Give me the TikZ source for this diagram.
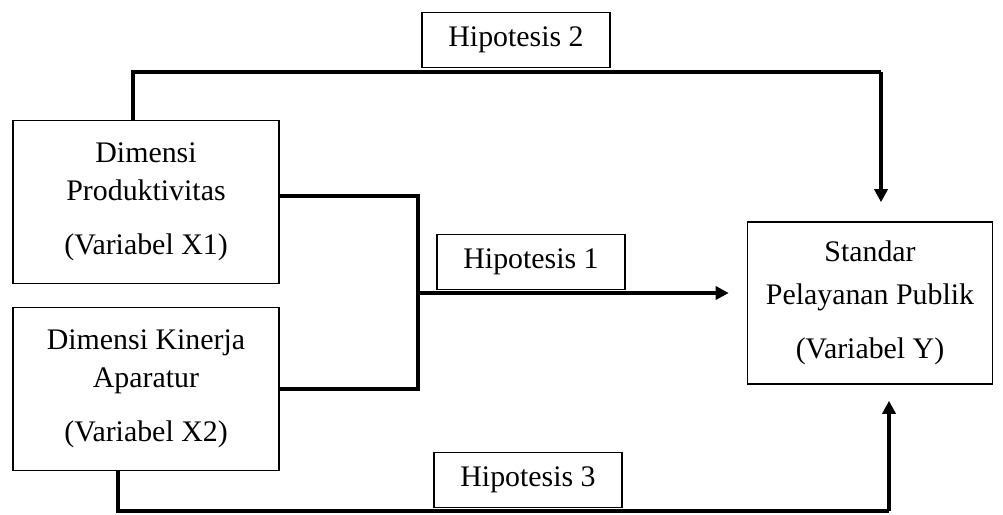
\documentclass[tikz,border=0pt]{standalone}
\usepackage{fontspec}
\setmainfont{Liberation Serif}
\usetikzlibrary{arrows.meta}

\begin{document}
\begin{tikzpicture}[
  x=0.02cm, y=-0.02cm,
  box/.style={draw, line width=0.9pt, inner sep=0pt, align=center, font=\fontsize{17}{21.5}\selectfont},
  varbox/.style={box, minimum width=5.33cm, minimum height=3.26cm},
  hipo/.style={box, minimum width=3.76cm, minimum height=1.1cm},
  link/.style={line width=2pt},
  >={Triangle[length=2.6mm,width=2.6mm]}
]
\useasboundingbox (0,0) rectangle (1003,514);
\node[varbox] (x1) at (146,202) {Dimensi\\Produktivitas\\[0.32cm](Variabel X1)};
\node[varbox] (x2) at (146,389) {Dimensi Kinerja\\Aparatur\\[0.32cm](Variabel X2)};
\node[varbox, minimum width=4.9cm, minimum height=3.24cm] (y) at (870,303) {Standar\\[0.1cm]Pelayanan Publik\\[0.32cm](Variabel Y)};
\node[hipo] (h2) at (516,40) {Hipotesis 2};
\node[hipo] (h1) at (531,262) {Hipotesis 1};
\node[hipo] (h3) at (528,480) {Hipotesis 3};
% junction points
\coordinate (t1) at (133,72);
\coordinate (t2) at (881,72);
\coordinate (j) at (418,293);
\coordinate (b1) at (118,511);
\coordinate (b2) at (889,511);
% hipotesis 2
\draw[link] (x1.north -| t1) -- (t1) -- (t2);
\draw[link, ->, shorten >=19*0.02cm] (t2) -- (y.north -| t2);
% hipotesis 1
\draw[link] ([yshift=0.12cm]x1.east) -| (j);
\draw[link] (x2.east) -| (j);
\draw[link, ->, shorten >=18*0.02cm] (j) -- (y.west |- j);
% hipotesis 3
\draw[link] (x2.south -| b1) -- (b1) -- (b2);
\draw[link, ->, shorten >=16*0.02cm] (b2) -- (y.south -| b2);
\end{tikzpicture}
\end{document}
